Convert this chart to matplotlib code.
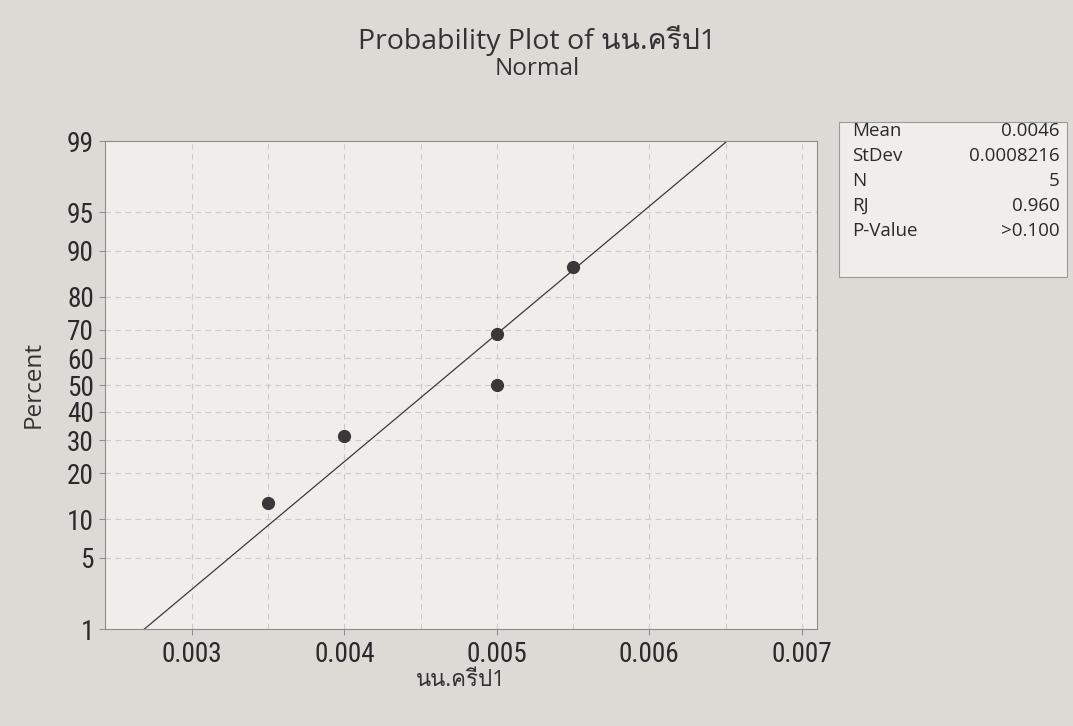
import matplotlib
matplotlib.use("Agg")
import matplotlib.pyplot as plt
import numpy as np
from statistics import NormalDist
from matplotlib import font_manager as fm
from matplotlib.ft2font import FT2Font
from matplotlib.patches import Rectangle

# ---------------- data ----------------
values = [0.0035, 0.0040, 0.0050, 0.0050, 0.0055]
percents = [13.0, 31.5, 50.0, 68.5, 87.0]
fit_mean = 0.0046
fit_sd = 0.0008216
y_ticks = [1, 5, 10, 20, 30, 40, 50, 60, 70, 80, 90, 95, 99]
y_grid = [5, 10, 20, 30, 40, 50, 60, 70, 80, 90, 95]
x_ticks = [0.003, 0.004, 0.005, 0.006, 0.007]
x_tick_labels = ["0.003", "0.004", "0.005", "0.006", "0.007"]
x_grid = [0.003, 0.0035, 0.004, 0.0045, 0.005, 0.0055, 0.006, 0.0065, 0.007]
stat_names = ["Mean", "StDev", "N", "RJ", "P-Value"]
stat_values = ["0.0046", "0.0008216", "5", "0.960", ">0.100"]
title = "Probability Plot of นน.ครีป1"
subtitle = "Normal"
xlabel = "นน.ครีป1"
ylabel = "Percent"


# ---------------- fonts ----------------
def find_font_with(chars):
    for f in fm.fontManager.ttflist:
        try:
            cm = FT2Font(f.fname).get_charmap()
        except Exception:
            continue
        if all(ord(c) in cm for c in chars):
            return f.name
    return None


def installed(name):
    try:
        fm.findfont(fm.FontProperties(family=name), fallback_to_default=False)
        return True
    except Exception:
        return False


def find_condensed():
    prefs = ["liberationsansnarrow-regular", "robotocondensed-regular",
             "dejavusanscondensed.", "opensans_condensed", "narrow", "condensed"]
    files = [f.fname for f in fm.fontManager.ttflist]
    for p in prefs:
        for fn in files:
            low = fn.lower()
            if p in low and not any(k in low for k in ("bold", "italic", "oblique", "light", "thin", "black", "medium", "semi")):
                return fn
    return None


thai = find_font_with("นครีป")
base = "Open Sans" if installed("Open Sans") else "DejaVu Sans"
main_family = [base] + ([thai] if thai else []) + ["DejaVu Sans"]
plt.rcParams["font.family"] = main_family

cond_file = find_condensed()
if cond_file:
    tick_fp = fm.FontProperties(fname=cond_file)
else:
    tick_fp = fm.FontProperties(family="DejaVu Sans")

# ---------------- figure ----------------
W, H = 1073, 726
fig = plt.figure(figsize=(W / 100, H / 100), dpi=100)
fig.patch.set_facecolor("#dddad6")

# size tick font so that "0.003" is about 60 px wide
probe = fig.text(0, 0, "0.003", fontproperties=tick_fp, fontsize=10)
renderer = fig.canvas.get_renderer()
w10 = probe.get_window_extent(renderer).width
probe.remove()
tick_size = min(20.0, 10.0 * 60.0 / max(w10, 1.0))
tick_fp.set_size(tick_size)

ax = fig.add_axes([105 / W, 1 - 629 / H, (817 - 105) / W, (629 - 141) / H])
ax.set_facecolor("#f0eeeb")

nd = NormalDist()


def fwd(p):
    p = np.clip(np.asarray(p, dtype=float), 1e-9, 100 - 1e-9)
    return np.array([nd.inv_cdf(v / 100.0) for v in p.ravel()]).reshape(p.shape)


def inv(z):
    z = np.asarray(z, dtype=float)
    return np.array([nd.cdf(v) * 100.0 for v in z.ravel()]).reshape(z.shape)


ax.set_yscale("function", functions=(fwd, inv))
ax.set_ylim(1, 99)
ax.set_xlim(0.00243, 0.0071)

# grid
for g in y_grid:
    ax.axhline(g, color="#cdcbc8", lw=0.8, ls=(0, (5, 4)), zorder=1)
for g in x_grid:
    ax.axvline(g, color="#cdcbc8", lw=0.8, ls=(0, (5, 4)), zorder=1)

# fitted line between 1% and 99%
fit = NormalDist(fit_mean, fit_sd)
line_x = [fit.inv_cdf(0.01), fit.inv_cdf(0.99)]
line_y = [1, 99]
ax.plot(line_x, line_y, color="#3a3a3a", lw=0.9, zorder=2)

# points
ax.plot(values, percents, "o", color="#383838", ms=8.5, zorder=3)

# ticks
ax.set_yticks(y_ticks)
ax.set_yticklabels([str(t) for t in y_ticks])
ax.set_xticks(x_ticks)
ax.set_xticklabels(x_tick_labels)
ax.minorticks_off()
ax.tick_params(axis="both", direction="out", length=4, width=0.7, color="#8a8a8a",
               labelcolor="#2a2a2a")
ax.tick_params(axis="x", pad=5)
ax.tick_params(axis="y", pad=4)
for lab in ax.get_xticklabels() + ax.get_yticklabels():
    lab.set_fontproperties(tick_fp)

for s in ax.spines.values():
    s.set_color("#8c8c8c")
    s.set_linewidth(0.8)

# labels / titles
fig.text(537 / W, 1 - 41 / H, title, ha="center", va="center", fontsize=20.5, color="#333333")
fig.text(537 / W, 1 - 69 / H, subtitle, ha="center", va="center", fontsize=17.5, color="#333333")
fig.text(461 / W, 1 - 680 / H, xlabel, ha="center", va="center", fontsize=16, color="#333333")
fig.text(34 / W, 1 - 384 / H, ylabel, ha="center", va="center", rotation=90, fontsize=17.5,
         color="#333333")

# statistics box
bx0, bx1, by0, by1 = 839, 1067, 122, 277
fig.patches.append(Rectangle((bx0 / W, 1 - by1 / H), (bx1 - bx0) / W, (by1 - by0) / H,
                             transform=fig.transFigure, facecolor="#f0eeeb",
                             edgecolor="#9a9a9a", lw=0.8))
row_y = [131, 156, 181, 206, 231]
for name, val, ry in zip(stat_names, stat_values, row_y):
    fig.text(852 / W, 1 - ry / H, name, ha="left", va="center", fontsize=13.5, color="#2a2a2a")
    fig.text(1060 / W, 1 - ry / H, val, ha="right", va="center", fontsize=13.5, color="#2a2a2a")

fig.savefig("out.png", dpi=100, facecolor=fig.get_facecolor())
